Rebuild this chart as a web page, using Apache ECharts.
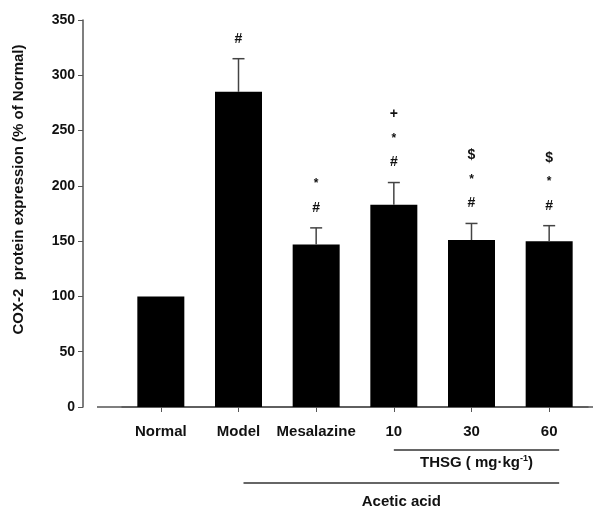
<!DOCTYPE html>
<html>
<head>
<meta charset="utf-8">
<script src="https://cdn.jsdelivr.net/npm/echarts@6/dist/echarts.min.js"></script>
<style>
  html, body { margin: 0; padding: 0; background: #fff; }
  #main { width: 593px; height: 508px; }
</style>
</head>
<body>
<div id="main"></div>
<script>
// 数据
const categories = ['Normal', 'Model', 'Mesalazine', '10', '30', '60'];
const means = [100, 285, 147, 183, 151, 150];
const errs = [0, 30, 15, 20, 15, 14];
const marks = [[], ['#'], ['#', '*'], ['#', '*', '+'], ['#', '*', '$'], ['#', '*', '$']];
const yMin = 0, yMax = 350, yStep = 50;

const font = 'Liberation Sans, Arial, sans-serif';
const chart = echarts.init(document.getElementById('main'));

// 误差线 + 显著性标记
function renderErr(params, api) {
  const i = api.value(0);
  const m = api.value(1), e = api.value(2);
  const base = api.coord([i, m]);
  const top = api.coord([i, m + e]);
  const children = [];
  if (e > 0) {
    children.push({ type: 'line', shape: { x1: top[0], y1: base[1], x2: top[0], y2: top[1] },
      style: { stroke: '#444', lineWidth: 1.5 } });
    children.push({ type: 'line', shape: { x1: top[0] - 6, y1: top[1], x2: top[0] + 6, y2: top[1] },
      style: { stroke: '#444', lineWidth: 1.5 } });
  }
  (marks[params.dataIndex] || []).forEach((t, k) => {
    children.push({ type: 'text', x: top[0], y: top[1] - 20 - k * 24,
      style: { text: t, fill: '#111', font: 'bold ' + (t === '*' ? 12 : 14) + 'px ' + font,
        align: 'center', verticalAlign: 'middle' } });
  });
  return { type: 'group', children: children };
}

const option = {
  animation: false,
  grid: { left: 122, right: 5, top: 20, bottom: 101 },
  xAxis: {
    type: 'category',
    data: categories,
    axisLine: { show: true, lineStyle: { color: '#555', width: 1.5 } },
    axisTick: { show: true, alignWithLabel: true, length: 5, lineStyle: { color: '#555' } },
    axisLabel: { color: '#111', fontWeight: 'bold', fontSize: 15, fontFamily: font, margin: 17, interval: 0 }
  },
  yAxis: {
    type: 'value',
    min: yMin, max: yMax, interval: yStep,
    offset: 39,
    name: 'COX-2  protein expression (% of Normal)',
    nameLocation: 'middle',
    nameGap: 57,
    nameTextStyle: { color: '#111', fontWeight: 'bold', fontSize: 15, fontFamily: font, padding: [0, 0, 0, 48] },
    axisLine: { show: true, lineStyle: { color: '#555', width: 1.5 } },
    axisTick: { show: true, length: 5, lineStyle: { color: '#555' } },
    axisLabel: { color: '#111', fontWeight: 'bold', fontSize: 14, fontFamily: font, margin: 8 },
    splitLine: { show: false }
  },
  series: [
    {
      type: 'bar',
      data: means,
      barWidth: 47,
      itemStyle: { color: '#000' }
    },
    {
      type: 'custom',
      renderItem: renderErr,
      data: categories.map((c, i) => [i, means[i], errs[i]]),
      z: 5
    }
  ]
};
chart.setOption(option);

// 底部分组线和文字
const y0 = chart.convertToPixel({ yAxisIndex: 0 }, 0);
const px = c => chart.convertToPixel({ xAxisIndex: 0 }, c);
const thsgL = px('10'), right = px('60') + 10, acetL = px('Model') + 5;
chart.setOption({
  graphic: [
    { type: 'line', shape: { x1: 97, y1: y0, x2: 593, y2: y0 }, style: { stroke: '#555', lineWidth: 1.5 } },
    { type: 'line', shape: { x1: thsgL, y1: y0 + 43, x2: right, y2: y0 + 43 }, style: { stroke: '#333', lineWidth: 1.5 } },
    { type: 'text', x: (thsgL + right) / 2, y: y0 + 56,
      style: { text: 'THSG ( mg·kg{s|-1})', fill: '#111', font: 'bold 15px ' + font,
        align: 'center', verticalAlign: 'middle',
        rich: { s: { fontSize: 9, fontWeight: 'bold', fontFamily: font, verticalAlign: 'top', padding: [0, 0, 8, 0] } } } },
    { type: 'line', shape: { x1: acetL, y1: y0 + 76, x2: right, y2: y0 + 76 }, style: { stroke: '#333', lineWidth: 1.5 } },
    { type: 'text', x: (acetL + right) / 2, y: y0 + 95,
      style: { text: 'Acetic acid', fill: '#111', font: 'bold 15px ' + font, align: 'center', verticalAlign: 'middle' } }
  ]
});
</script>
</body>
</html>
